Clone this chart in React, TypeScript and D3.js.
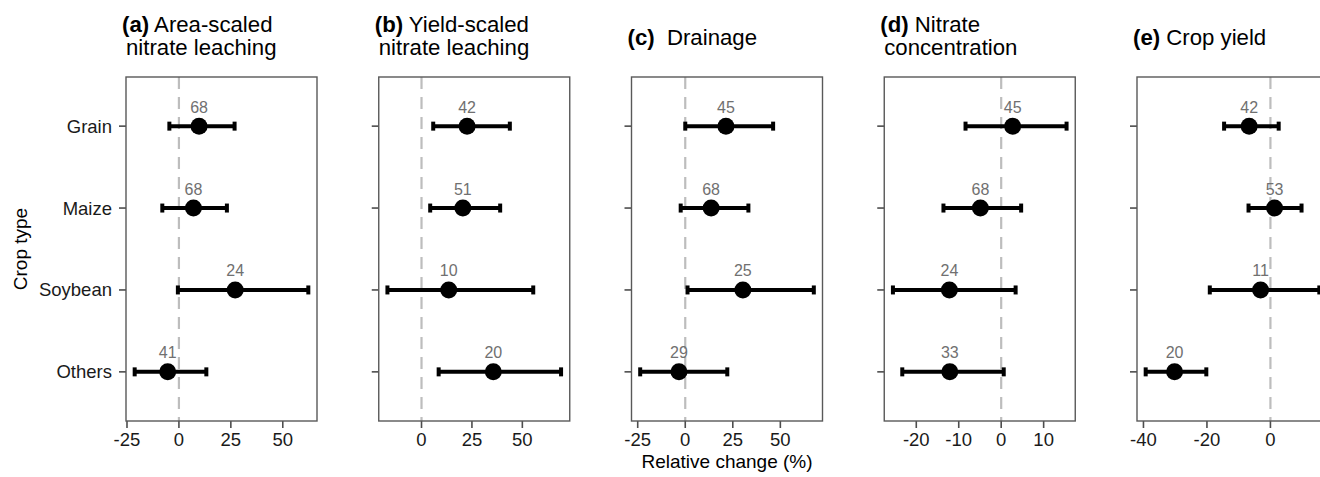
import React from "react";
import * as d3 from "d3";

// crop types, top to bottom
const crops = ["Grain", "Maize", "Soybean", "Others"];

// (a) area-scaled nitrate leaching
const areaMean = [9.7, 7.0, 27.1, -5.4];
const areaLow = [-4.6, -8.0, -0.5, -21.3];
const areaHigh = [26.8, 23.1, 62.3, 13.2];
const areaN = [68, 68, 24, 41];
const areaTicks = [-25, 0, 25, 50];

// (b) yield-scaled nitrate leaching
const yieldScaledMean = [22.6, 20.5, 13.5, 35.6];
const yieldScaledLow = [5.8, 4.3, -16.9, 8.5];
const yieldScaledHigh = [43.8, 39.0, 55.4, 69.2];
const yieldScaledN = [42, 51, 10, 20];
const yieldScaledTicks = [0, 25, 50];

// (c) drainage
const drainMean = [21.4, 13.6, 30.3, -3.3];
const drainLow = [0.0, -2.4, 1.2, -23.7];
const drainHigh = [46.2, 33.2, 67.6, 22.1];
const drainN = [45, 68, 25, 29];
const drainTicks = [-25, 0, 25, 50];

// (d) nitrate concentration
const concMean = [2.7, -4.9, -12.2, -12.1];
const concLow = [-8.4, -13.6, -25.5, -23.3];
const concHigh = [15.4, 4.7, 3.4, 0.6];
const concN = [45, 68, 24, 33];
const concTicks = [-20, -10, 0, 10];

// (e) crop yield
const cropMean = [-6.7, 1.3, -3.1, -30.2];
const cropLow = [-14.6, -6.9, -19.1, -39.3];
const cropHigh = [2.6, 9.8, 15.4, -20.2];
const cropN = [42, 53, 11, 20];
const cropTicks = [-40, -20, 0];

const panels = [
  { tag: "(a)", title: ["Area-scaled", "nitrate leaching"], mean: areaMean, low: areaLow, high: areaHigh, n: areaN, ticks: areaTicks },
  { tag: "(b)", title: ["Yield-scaled", "nitrate leaching"], mean: yieldScaledMean, low: yieldScaledLow, high: yieldScaledHigh, n: yieldScaledN, ticks: yieldScaledTicks },
  { tag: "(c)", title: ["\u00a0Drainage"], mean: drainMean, low: drainLow, high: drainHigh, n: drainN, ticks: drainTicks },
  { tag: "(d)", title: ["Nitrate", "concentration"], mean: concMean, low: concLow, high: concHigh, n: concN, ticks: concTicks },
  { tag: "(e)", title: ["Crop yield"], mean: cropMean, low: cropLow, high: cropHigh, n: cropN, ticks: cropTicks },
];

const W = 1320;
const H = 477;
const top = 77;
const bottom = 421;
const firstLeft = 126;
const step = 252.75;
const panelW = 191;
const titleSize = 22.2;
const font = "'Liberation Sans', Arial, sans-serif";

const y = d3.scalePoint<string>().domain(crops).range([top, bottom]).padding(0.6);

function Panel({ p, i }: { p: any; i: number }) {
  const left = firstLeft + i * step;
  const lo = d3.min(p.low as number[])!;
  const hi = d3.max(p.high as number[])!;
  const pad = (hi - lo) * 0.05;
  const x = d3.scaleLinear().domain([lo - pad, hi + pad]).range([left, left + panelW]);

  return (
    <g>
      {/* title */}
      {p.title.length === 2 ? (
        <>
          <text x={left - 4} y={31.5} fontSize={titleSize} fill="#000">
            <tspan fontWeight="bold">{p.tag}</tspan>
            <tspan> {p.title[0]}</tspan>
          </text>
          <text x={left} y={55} fontSize={titleSize} fill="#000">{p.title[1]}</text>
        </>
      ) : (
        <text x={left - 4} y={45} fontSize={titleSize} fill="#000">
          <tspan fontWeight="bold">{p.tag}</tspan>
          <tspan> {p.title[0]}</tspan>
        </text>
      )}

      {/* zero reference */}
      <line x1={x(0)} x2={x(0)} y1={top} y2={bottom} stroke="#bdbdbd" strokeWidth={2.2} strokeDasharray="12 8" />

      {/* y ticks */}
      {crops.map((c) => (
        <g key={c}>
          <line x1={left - 7} x2={left} y1={y(c)} y2={y(c)} stroke="#4d4d4d" strokeWidth={1.6} />
          {i === 0 && (
            <text x={left - 14} y={y(c)!} dy="0.35em" textAnchor="end" fontSize={18.5} fill="#1a1a1a">{c}</text>
          )}
        </g>
      ))}

      {/* x ticks */}
      {p.ticks.map((t: number) => (
        <g key={t}>
          <line x1={x(t)} x2={x(t)} y1={bottom} y2={bottom + 7} stroke="#4d4d4d" strokeWidth={1.6} />
          <text x={x(t)} y={446} textAnchor="middle" fontSize={18.5} fill="#1a1a1a">{String(t)}</text>
        </g>
      ))}

      {/* error bars, points, counts */}
      {crops.map((c, k) => {
        const cy = y(c)!;
        return (
          <g key={c}>
            <line x1={x(p.low[k])} x2={x(p.high[k])} y1={cy} y2={cy} stroke="#000" strokeWidth={4} />
            <line x1={x(p.low[k])} x2={x(p.low[k])} y1={cy - 4.5} y2={cy + 4.5} stroke="#000" strokeWidth={4} />
            <line x1={x(p.high[k])} x2={x(p.high[k])} y1={cy - 4.5} y2={cy + 4.5} stroke="#000" strokeWidth={4} />
            <circle cx={x(p.mean[k])} cy={cy} r={8.5} fill="#000" />
            <text x={x(p.mean[k])} y={cy - 13.5} textAnchor="middle" fontSize={16} fill="#707070">{p.n[k]}</text>
          </g>
        );
      })}

      {/* panel border */}
      <rect x={left} y={top} width={panelW} height={bottom - top} fill="none" stroke="#595959" strokeWidth={1.4} />
    </g>
  );
}

export default function App() {
  const midC = firstLeft + 2 * step + panelW / 2;
  return (
    <svg
      width={W}
      height={H}
      viewBox={`0 0 ${W} ${H}`}
      style={{ position: "absolute", top: 0, left: 0, background: "#fff" }}
      fontFamily={font}
    >
      <rect width={W} height={H} fill="#fff" />
      {panels.map((p, i) => (
        <Panel key={p.tag} p={p} i={i} />
      ))}
      <text x={midC} y={468} textAnchor="middle" fontSize={19} fill="#000">Relative change (%)</text>
      <text transform={`translate(27, ${(top + bottom) / 2}) rotate(-90)`} textAnchor="middle" fontSize={19} fill="#000">Crop type</text>
    </svg>
  );
}
